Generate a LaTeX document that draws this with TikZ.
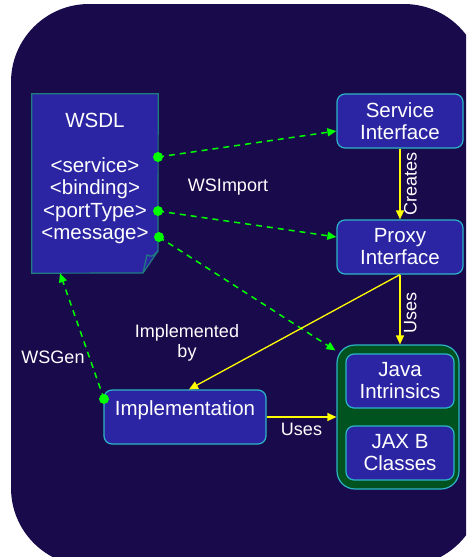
\documentclass[tikz,border=0pt]{standalone}
\usepackage{fontspec}
\setmainfont{Liberation Sans}
\usetikzlibrary{arrows.meta}
\definecolor{bgnavy}{HTML}{190A4C}
\definecolor{boxblue}{HTML}{2C25A3}
\definecolor{boxedge}{HTML}{2BB5C6}
\definecolor{docedge}{HTML}{1E7C80}
\definecolor{contgreen}{HTML}{00521F}
\definecolor{lime}{HTML}{00FF00}
\definecolor{yel}{HTML}{FFFF00}
\tikzset{
  bigtxt/.style={text=white,font=\fontsize{20.5}{22.5}\selectfont,align=center},
  lbl/.style={text=white,font=\fontsize{18}{20}\selectfont,align=center},
  ibox/.style={draw=boxedge,line width=1.2pt,fill=boxblue,rounded corners=8pt,
    minimum width=126pt,minimum height=54pt,inner sep=0pt,
    text=white,font=\fontsize{20.5}{22}\selectfont,align=center},
  gdash/.style={lime,line width=1.5pt,dash pattern=on 6pt off 5pt,-{Triangle[length=9pt,width=8pt]}},
  yarrow/.style={yel,line width=1.3pt,-{Triangle[length=9pt,width=8pt]}},
  gdot/.style={fill=lime,draw=none,circle,inner sep=0pt,minimum size=10pt}
}
\begin{document}
\begin{tikzpicture}[x=1pt,y=-1pt]
\useasboundingbox (0,0) rectangle (466,557);
\begin{scope}
\clip (0,0) rectangle (466,557);
\fill[bgnavy,rounded corners=78pt] (11,4) rectangle (482,566);
\end{scope}
% WSDL document
\node[minimum width=126pt,minimum height=179pt,inner sep=0pt] (wsdl) at (95,183.5) {};
\draw[docedge,line width=1.2pt,fill=boxblue] (wsdl.north west) -- (wsdl.north east) -- (158,251) -- (143,273) -- (wsdl.south west) -- cycle;
\draw[docedge,line width=1.2pt] (143,273) .. controls (145,264) .. (147,255) .. controls (152,257) .. (158,251);
\node[bigtxt] (wsdltxt) at (95,178.5) {WSDL\\[22.5pt]<service>\\<binding>\\<portType>\\<message>};
% right boxes
\node[ibox] (si) at (400,121) {Service\\Interface};
\node[ibox] (pi) at (400,247) {Proxy\\Interface};
\node[draw=boxedge,line width=1.2pt,fill=contgreen,rounded corners=18pt,minimum width=122pt,minimum height=144pt,inner sep=0pt] (cont) at (398,417) {};
\node[ibox,minimum width=108pt] (java) at (400,381) {Java\\Intrinsics};
\node[ibox,minimum width=108pt] (jaxb) at (400,453) {JAX B\\Classes};
% implementation
\node[ibox,minimum width=162pt] (impl) at (185,417) {};
\node[bigtxt] (impltxt) at (185,410) {Implementation};
% dots
\coordinate (d1) at (158,157);
\coordinate (d2) at (158,211);
\coordinate (d3) at (159,237);
\coordinate (d4) at (104,399);
% green dashed connectors
\draw[gdash] (d1) -- ([yshift=-10pt]si.west);
\draw[gdash] (d2) -- ([yshift=10pt]pi.west);
\draw[gdash] (d3) -- ([xshift=-1pt,yshift=-6pt]cont.north west);
\draw[gdash] (d4) -- ([xshift=-35pt]wsdl.south);
\node[gdot] at (d1) {};
\node[gdot] at (d2) {};
\node[gdot] at (d3) {};
\node[gdot] at (d4) {};
% yellow connectors
\draw[yarrow] (si.south) -- node[lbl,rotate=90,anchor=north] (creates) {Creates} (pi.south |- pi.north);
\draw[yarrow] (pi.south) -- node[lbl,rotate=90,anchor=north,pos=0.55] (uses1) {Uses} (pi.south |- cont.north);
\draw[yarrow] (pi.south) -- ([xshift=4pt]impl.north);
\draw[yarrow] (impl.east) -- node[lbl,below=2pt] (uses2) {Uses} (cont.west |- impl.east);
% labels
\node[lbl] (wsimport) at (228,187) {WSImport};
\node[lbl] (implby) at (187,343) {Implemented\\by};
\node[lbl] (wsgen) at (53,357) {WSGen};
\end{tikzpicture}
\end{document}
